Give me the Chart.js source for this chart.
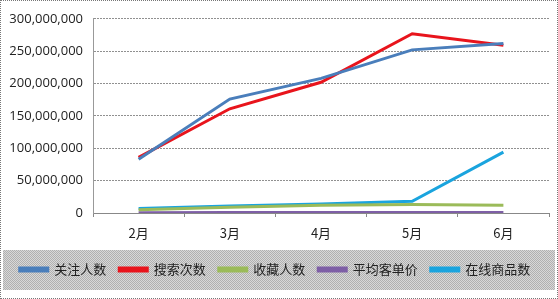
<!DOCTYPE html>
<html>
<head>
<meta charset="utf-8">
<script src="https://cdn.jsdelivr.net/npm/chart.js@4.4.0/dist/chart.umd.min.js"></script>
<style>
  html, body { margin: 0; padding: 0; background: #fff; }
  #wrap { width: 556px; height: 297px; border: 1px dotted #777; position: relative; }
</style>
</head>
<body>
<div id="wrap"><canvas id="c"></canvas></div>
<script>
// categorias e séries
const meses = ['2月', '3月', '4月', '5月', '6月'];
const nomes = ['关注人数', '搜索次数', '收藏人数', '平均客单价', '在线商品数'];
const guanzhu = [83000000, 176000000, 208000000, 252000000, 262000000];
const sousuo = [86000000, 161000000, 202000000, 277000000, 259000000];
const shoucang = [5000000, 9000000, 12000000, 13000000, 12000000];
const kedanjia = [500000, 600000, 600000, 700000, 600000];
const shangpin = [7000000, 11000000, 14000000, 18000000, 94000000];
const yTicks = [0, 50000000, 100000000, 150000000, 200000000, 250000000, 300000000];

const cores = ['#4A7EBB', '#E8141C', '#9BBB59', '#7E5FA6', '#1AA4DE'];

// textura cinza da faixa da legenda
const pat = document.createElement('canvas');
pat.width = 2; pat.height = 2;
const pctx = pat.getContext('2d');
pctx.fillStyle = '#d8d8d8'; pctx.fillRect(0, 0, 2, 2);
pctx.fillStyle = '#b0b0b0'; pctx.fillRect(0, 0, 1, 1); pctx.fillRect(1, 1, 1, 1);

const faixaLegenda = {
  id: 'faixaLegenda',
  beforeDraw(chart) {
    const ctx = chart.ctx;
    const lg = chart.legend;
    ctx.save();
    ctx.fillStyle = ctx.createPattern(pat, 'repeat');
    ctx.fillRect(2, lg.top, chart.width - 4, lg.bottom - lg.top + 4);
    ctx.restore();
  }
};

const dados = [guanzhu, sousuo, shoucang, kedanjia, shangpin];

new Chart(document.getElementById('c').getContext('2d'), {
  type: 'line',
  data: {
    labels: meses,
    datasets: dados.map((d, i) => ({
      label: nomes[i],
      data: d,
      borderColor: cores[i],
      backgroundColor: cores[i],
      borderWidth: 3,
      pointRadius: 0,
      tension: 0
    }))
  },
  options: {
    responsive: true,
    maintainAspectRatio: false,
    animation: false,
    layout: { padding: { left: 0, right: 8, top: 14, bottom: 12 } },
    scales: {
      x: {
        offset: true,
        afterFit: s => { s.height = 37; },
        grid: {
          display: true,
          drawOnChartArea: false,
          offset: true,
          tickLength: 4,
          color: '#888'
        },
        border: { color: '#888' },
        ticks: {
          padding: 8,
          color: '#222',
          font: { family: 'Noto Sans CJK SC', size: 13 }
        }
      },
      y: {
        min: 0,
        max: 300000000,
        afterFit: s => { s.width = 92; },
        afterBuildTicks: s => { s.ticks = yTicks.map(v => ({ value: v })); },
        grid: {
          color: '#909090',
          drawTicks: false
        },
        border: { color: '#999', dash: [2, 1] },
        ticks: {
          padding: 10,
          color: '#222',
          font: { family: 'Open Sans', size: 13 },
          callback: v => v.toLocaleString('en-US')
        }
      }
    },
    plugins: {
      legend: {
        position: 'bottom',
        labels: {
          boxWidth: 28,
          boxHeight: 3,
          padding: 13,
          color: '#222',
          font: { family: 'Noto Sans CJK SC', size: 13 }
        }
      },
      tooltip: { enabled: false }
    }
  },
  plugins: [faixaLegenda]
});
</script>
</body>
</html>
